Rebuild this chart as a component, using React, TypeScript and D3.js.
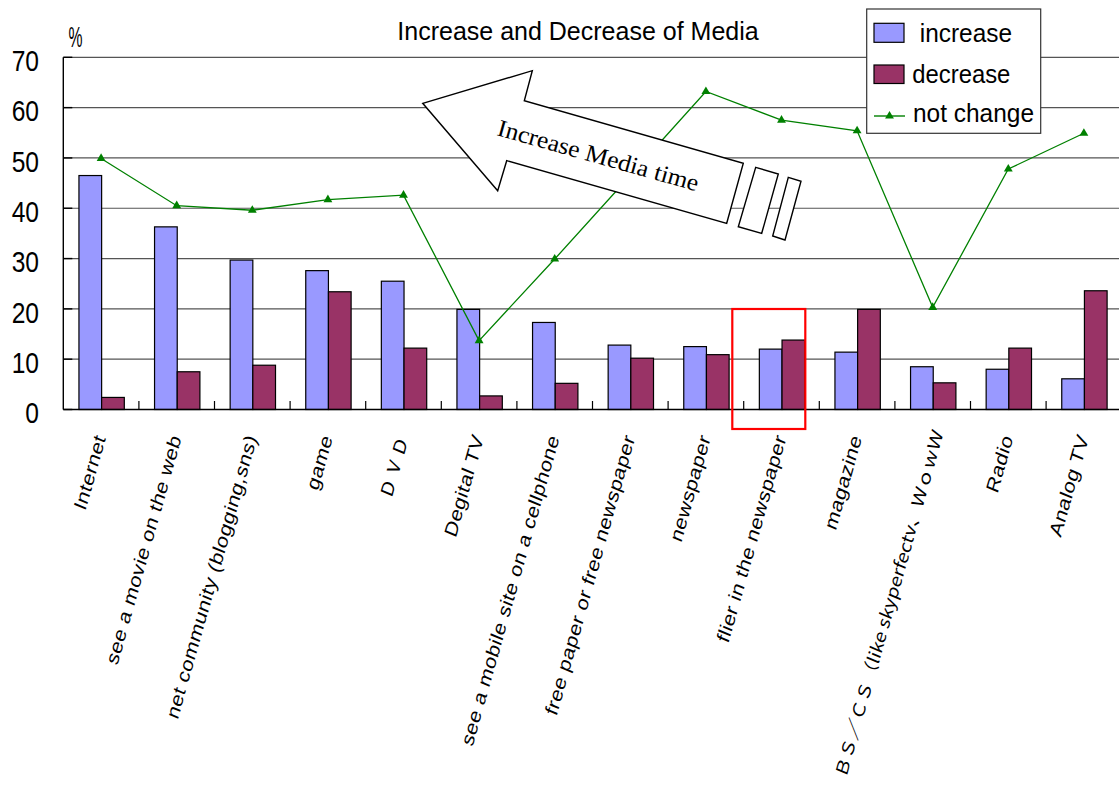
import React from 'react';
import * as d3 from 'd3';

const categories = [
  'Internet',
  'see a movie on the web',
  'net community (blogging,sns)',
  'game',
  'ＤＶＤ',
  'Degital TV',
  'see a mobile site on a cellphone',
  'free paper or free newspaper',
  'newspaper',
  'flier in the newspaper',
  'magazine',
  'ＢＳ／ＣＳ（like skyperfectv、ＷｏｗＷ',
  'Radio',
  'Analog TV',
];
const increase = [46.5, 36.3, 29.7, 27.6, 25.5, 19.9, 17.3, 12.8, 12.5, 12.0, 11.4, 8.5, 8.0, 6.1];
const decrease = [2.4, 7.5, 8.8, 23.4, 12.2, 2.7, 5.2, 10.2, 10.9, 13.8, 19.9, 5.3, 12.2, 23.6];
const notChange = [49.9, 40.5, 39.6, 41.7, 42.6, 13.7, 29.9, 46.5, 63.2, 57.5, 55.4, 20.3, 47.8, 54.9];
const yTicks = [0, 10, 20, 30, 40, 50, 60, 70];
const legendItems = [' increase', 'decrease', 'not change'];

const W = 1119;
const H = 787;
const LEFT = 63.3;
const CAT_W = 75.6;
const Y0 = 409.5;
const YTOP = 57.3;
const FONT = '"Liberation Sans", Arial, sans-serif';
const CJK_FONT = '"Noto Sans CJK JP", "Noto Sans CJK SC", sans-serif';
const C_INC = '#9999FF';
const C_DEC = '#993366';
const C_LINE = '#008000';

export default function App() {
  const x = d3
    .scaleBand<string>()
    .domain(categories)
    .range([LEFT, LEFT + CAT_W * categories.length])
    .padding(0);
  const y = d3.scaleLinear().domain([0, 70]).range([Y0, YTOP]);
  const bw = x.bandwidth();
  const barW = bw * 0.3;
  const off = bw * 0.207;
  const cx = (i: number) => (x(categories[i]) as number) + bw / 2;
  const line = d3
    .line<number>()
    .x((_, i) => cx(i))
    .y((d) => y(d));
  const tri = d3.symbol().type(d3.symbolTriangle).size(34)() as string;

  return (
    <svg
      width={W}
      height={H}
      style={{ position: 'absolute', left: 0, top: 0, background: '#fff' }}
      fontFamily={FONT}
    >
      <rect x={0} y={0} width={W} height={H} fill="#fff" />
      {/* gridlines */}
      {yTicks.filter((t) => t > 0).map((t) => (
        <line key={'g' + t} x1={LEFT} x2={W} y1={y(t)} y2={y(t)} stroke="#555" strokeWidth={1.2} />
      ))}
      {/* y tick marks */}
      {yTicks.map((t) => (
        <line key={'yt' + t} x1={LEFT} x2={LEFT + 9} y1={y(t)} y2={y(t)} stroke="#000" strokeWidth={1.4} />
      ))}
      {/* y tick labels */}
      {yTicks.map((t) => (
        <text
          key={'yl' + t}
          transform={`translate(39,${y(t) + 13.7}) scale(0.82,1)`}
          textAnchor="end"
          fontSize={30}
          fill="#000"
        >
          {t}
        </text>
      ))}
      <text x={68.5} y={46.5} fontSize={29} textLength={14} lengthAdjust="spacingAndGlyphs" fill="#000">
        %
      </text>

      {/* bars */}
      {increase.map((v, i) => (
        <rect
          key={'inc' + i}
          x={(x(categories[i]) as number) + off}
          y={y(v)}
          width={barW}
          height={Y0 - y(v)}
          fill={C_INC}
          stroke="#000"
          strokeWidth={1.2}
        />
      ))}
      {decrease.map((v, i) => (
        <rect
          key={'dec' + i}
          x={(x(categories[i]) as number) + off + barW}
          y={y(v)}
          width={barW}
          height={Y0 - y(v)}
          fill={C_DEC}
          stroke="#000"
          strokeWidth={1.2}
        />
      ))}

      {/* axes */}
      <line x1={LEFT} x2={LEFT} y1={YTOP} y2={Y0} stroke="#000" strokeWidth={1.4} />
      <line x1={LEFT} x2={W} y1={Y0} y2={Y0} stroke="#000" strokeWidth={1.4} />
      {categories.slice(1).map((c) => (
        <line
          key={'xt' + c}
          x1={x(c) as number}
          x2={x(c) as number}
          y1={Y0}
          y2={Y0 - 8.5}
          stroke="#000"
          strokeWidth={1.2}
        />
      ))}

      {/* x labels */}
      {categories.map((c, i) => {
        if (i === 11) {
          return (
            <text
              key={'xl' + c}
              transform={`translate(${cx(i) + 11},433) scale(0.82,1) rotate(-71)`}
              textAnchor="end"
              fontFamily={CJK_FONT}
              fontSize={20}
              textLength={366}
              lengthAdjust="spacingAndGlyphs"
              fill="#000"
            >
              {c}
            </text>
          );
        }
        return (
          <text
            key={'xl' + c}
            transform={`translate(${cx(i) + 5},438) scale(0.82,1) rotate(-71)`}
            textAnchor="end"
            fontSize={22}
            letterSpacing={0.4}
            fill="#000"
          >
            {c}
          </text>
        );
      })}

      {/* not change line */}
      <path d={line(notChange) as string} fill="none" stroke={C_LINE} strokeWidth={1.3} />
      {notChange.map((v, i) => (
        <path key={'m' + i} d={tri} transform={`translate(${cx(i)},${y(v)})`} fill={C_LINE} />
      ))}

      {/* title */}
      <text x={578} y={40} textAnchor="middle" fontSize={25} fill="#000">
        Increase and Decrease of Media
      </text>

      {/* arrow annotation */}
      <polygon
        points="422.7,103.3 532.3,70.7 524.3,100.7 743.3,163.3 726.7,223.3 506.7,160.7 497.7,190.7"
        fill="#fff"
        stroke="#000"
        strokeWidth={1.4}
      />
      <polygon
        points="755.7,167.3 778.3,174 761.7,233.3 738.3,226.7"
        fill="#fff"
        stroke="#000"
        strokeWidth={1.4}
      />
      <polygon
        points="788.3,177.3 801,181.3 785,240 772.7,236"
        fill="#fff"
        stroke="#000"
        strokeWidth={1.4}
      />
      <text
        transform="translate(496,135) rotate(15.7)"
        fontFamily='"Liberation Serif", "Times New Roman", serif'
        fontSize={24}
        textLength={208}
        lengthAdjust="spacingAndGlyphs"
        fill="#000"
      >
        Increase Media time
      </text>

      {/* legend */}
      <rect x={866.7} y={9} width={174} height={124.3} fill="#fff" stroke="#333" strokeWidth={1.2} />
      <rect x={874} y={23.3} width={30} height={19} fill={C_INC} stroke="#000" strokeWidth={1.2} />
      <rect x={874} y={65} width={30} height={18.5} fill={C_DEC} stroke="#000" strokeWidth={1.2} />
      <line x1={874} x2={905} y1={116} y2={116} stroke={C_LINE} strokeWidth={1.4} />
      <path d={tri} transform="translate(889.5,116)" fill={C_LINE} />
      <text x={913} y={42} fontSize={25} fill="#000" style={{ whiteSpace: 'pre' }} textLength={99} lengthAdjust="spacingAndGlyphs">
        {legendItems[0]}
      </text>
      <text x={912.3} y={83} fontSize={25} fill="#000" textLength={98} lengthAdjust="spacingAndGlyphs">
        {legendItems[1]}
      </text>
      <text x={913} y={122} fontSize={25} fill="#000" textLength={121} lengthAdjust="spacingAndGlyphs">
        {legendItems[2]}
      </text>

      {/* highlight box */}
      <rect x={732.3} y={309} width={73} height={120} fill="none" stroke="#ff0000" strokeWidth={2.2} />
    </svg>
  );
}
